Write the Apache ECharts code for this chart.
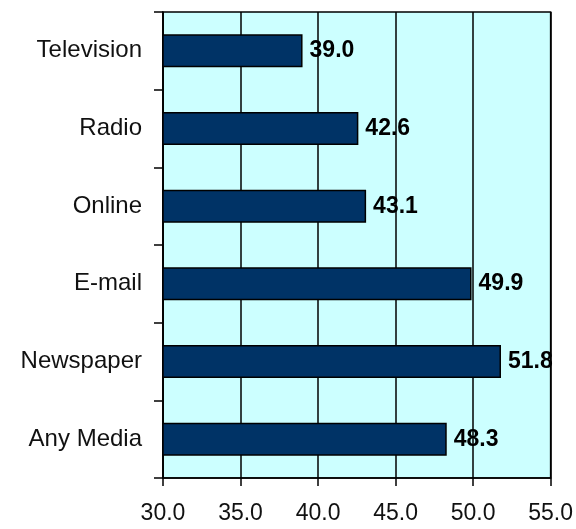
<!DOCTYPE html>
<html>
<head>
<meta charset="utf-8">
<script src="https://cdn.jsdelivr.net/npm/echarts@6/dist/echarts.min.js"></script>
<style>
  html, body { margin: 0; padding: 0; background: #ffffff; }
  #chart { width: 576px; height: 529px; }
</style>
</head>
<body>
<div id="chart"></div>
<script>
// Media categories, top to bottom
const categories = ['Television', 'Radio', 'Online', 'E-mail', 'Newspaper', 'Any Media'];
// Value for each category
const values = [39.0, 42.6, 43.1, 49.9, 51.8, 48.3];
// Value axis range and step
const axisMin = 30;
const axisMax = 55;
const axisStep = 5;

const FONT = '"Liberation Sans", Arial, sans-serif';

const chart = echarts.init(document.getElementById('chart'), null, { renderer: 'canvas' });

chart.setOption({
  animation: false,
  grid: {
    left: 163, right: 21, top: 12, bottom: 51,
    show: true,
    backgroundColor: '#ccffff',
    borderColor: '#000000',
    borderWidth: 1.5
  },
  xAxis: {
    type: 'value',
    min: axisMin,
    max: axisMax,
    interval: axisStep,
    axisLine: { show: true, onZero: false, lineStyle: { color: '#000000', width: 1.5 } },
    axisTick: { show: true, inside: false, length: 8, lineStyle: { color: '#000000', width: 1.5 } },
    splitLine: { show: true, lineStyle: { color: '#000000', width: 1.5 } },
    axisLabel: {
      color: '#111111',
      fontFamily: FONT,
      fontSize: 23,
      margin: 24,
      formatter: v => v.toFixed(1)
    }
  },
  yAxis: {
    type: 'category',
    data: categories,
    inverse: true,
    axisLine: { show: true, lineStyle: { color: '#000000', width: 1.5 } },
    axisTick: { show: true, length: 9, alignWithLabel: false, lineStyle: { color: '#000000', width: 1.5 } },
    splitLine: { show: false },
    axisLabel: {
      color: '#111111',
      fontFamily: FONT,
      fontSize: 24,
      margin: 21
    }
  },
  series: [{
    type: 'bar',
    data: values,
    barWidth: 33,
    itemStyle: {
      color: '#003366',
      borderColor: '#000000',
      borderWidth: 1.5
    },
    label: {
      show: true,
      position: 'right',
      distance: 7,
      color: '#000000',
      fontFamily: FONT,
      fontWeight: 'bold',
      fontSize: 23,
      formatter: p => p.value.toFixed(1)
    }
  }]
});
</script>
</body>
</html>
